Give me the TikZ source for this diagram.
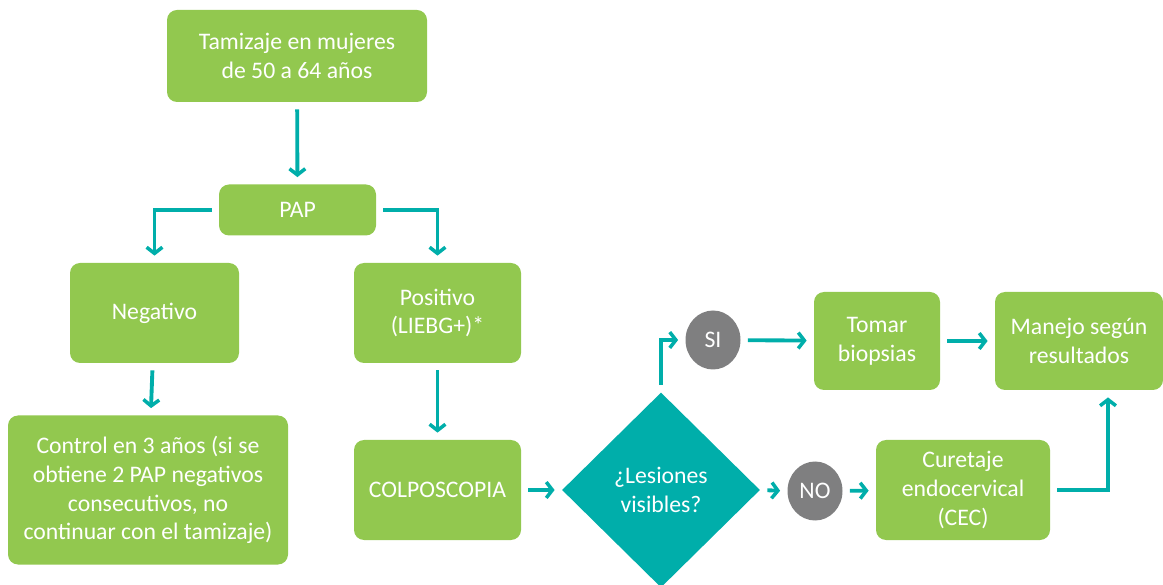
\documentclass[tikz,border=0pt]{standalone}
\usepackage{fontspec}
\setmainfont{Carlito}
\usetikzlibrary{arrows.meta, calc, shapes.geometric}

\definecolor{boxgreen}{HTML}{92C84F}
\definecolor{flowteal}{HTML}{00AEAA}
\definecolor{answergray}{HTML}{7F7F80}

\begin{document}
\begin{tikzpicture}[
  box/.style = {rectangle, rounded corners=0.2cm, fill=boxgreen, text=white, align=center, inner sep=0pt},
  question/.style = {diamond, fill=flowteal, text=white, align=center, inner sep=0pt, minimum width=3.96cm, minimum height=3.9cm},
  answer/.style = {ellipse, fill=answergray, text=white, inner sep=0pt, minimum width=1.1cm, minimum height=1.18cm},
  flow/.style = {-{Straight Barb[length=3.5pt, width=9pt, line width=2pt]}, line width=2.2pt, flowteal, shorten <=4pt, shorten >=4pt},
  every node/.style = {font=\fontsize{13.5}{16.4}\selectfont}
]

\useasboundingbox (0,0) rectangle (23.26,-11.70);

% Boxes
\node[box, minimum width=5.2cm, minimum height=1.84cm] (tam) at (5.94,-1.12) {Tamizaje en mujeres\\de 50 a 64 años};
\node[box, minimum width=3.14cm, minimum height=1.02cm] (pap) at (5.95,-4.20) {PAP};
\node[box, minimum width=3.38cm, minimum height=2.0cm] (neg) at (3.09,-6.26) {Negativo};
\node[box, minimum width=3.34cm, minimum height=2.0cm] (pos) at (8.75,-6.26) {Positivo\\(LIEBG+)*};
\node[box, minimum width=5.6cm, minimum height=2.98cm] (ctrl) at (2.96,-9.80) {Control en 3 años (si se\\obtiene 2 PAP negativos\\consecutivos, no\\continuar con el tamizaje)};
\node[box, minimum width=3.34cm, minimum height=2.0cm] (colpo) at (8.75,-9.80) {COLPOSCOPIA};
\node[question] (lesion) at (13.22,-9.80) {¿Lesiones\\visibles?};
\node[answer] (si) at (14.26,-6.80) {SI};
\node[answer] (no) at (16.30,-9.82) {NO};
\node[box, minimum width=2.52cm, minimum height=1.96cm] (tomar) at (17.54,-6.82) {Tomar\\biopsias};
\node[box, minimum width=3.36cm, minimum height=1.96cm] (manejo) at (21.58,-6.82) {Manejo según\\resultados};
\node[box, minimum width=3.48cm, minimum height=2.0cm] (cur) at (19.26,-9.80) {Curetaje\\endocervical\\(CEC)};

% Connectors
\draw[flow] (tam) -- (pap);
\draw[flow] (pap.west) -| (neg.north);
\draw[flow] (pap.east) -| (pos.north);
\draw[flow] (neg) -- (ctrl);
\draw[flow] (pos) -- (colpo);
\draw[flow] (colpo) -- (lesion);
\draw[flow] (lesion.north) |- (si.west);
\draw[flow] (si) -- (tomar);
\draw[flow] (tomar) -- (manejo);
\draw[flow] (lesion.east) -- (no.west);
\draw[flow] (no) -- (cur);
\draw[flow] (cur.east) -| ([xshift=0.58cm]manejo.south);

\end{tikzpicture}
\end{document}
